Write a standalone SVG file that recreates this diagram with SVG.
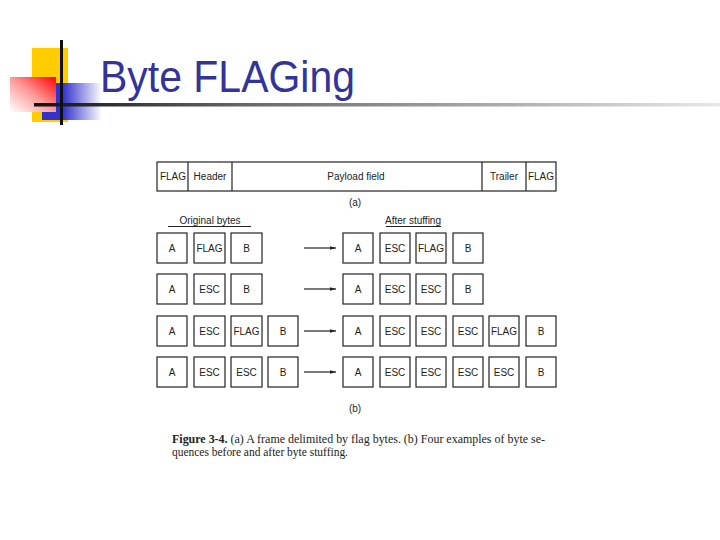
<svg xmlns="http://www.w3.org/2000/svg" width="720" height="540" viewBox="0 0 720 540">
<defs>
<linearGradient id="redG" x1="1" y1="0" x2="0" y2="1">
<stop offset="0" stop-color="#ff0000"/>
<stop offset="0.15" stop-color="#ff3030"/>
<stop offset="0.5" stop-color="#ff9a9a"/>
<stop offset="1" stop-color="#ffffff"/>
</linearGradient>
<linearGradient id="blueG" x1="0" y1="0" x2="1" y2="0">
<stop offset="0" stop-color="#3333cc"/>
<stop offset="0.35" stop-color="#3333cc"/>
<stop offset="1" stop-color="#ffffff"/>
</linearGradient>
<linearGradient id="lineG" x1="0" y1="0" x2="1" y2="0">
<stop offset="0" stop-color="#111111"/>
<stop offset="0.3" stop-color="#666666"/>
<stop offset="1" stop-color="#e8e8e8"/>
</linearGradient>
<marker id="arr" viewBox="0 0 10 10" refX="10" refY="5" markerWidth="6" markerHeight="6" markerUnits="userSpaceOnUse" orient="auto">
<path d="M0,2 L10,5 L0,8 z" fill="#222"/>
</marker>
</defs>
<style>
.box{fill:#fff;stroke:#222;stroke-width:1.2}
.t{font-family:"Liberation Sans",Arial,sans-serif;font-size:10px;fill:#222;text-anchor:middle}
.cap{font-family:"Liberation Serif","Times New Roman",serif;font-size:11.5px;fill:#222}
.conn{stroke:#222;stroke-width:1.2;fill:none}
</style>
<rect width="720" height="540" fill="#fff"/>

<g id="decoration">
<rect x="32" y="48" width="36" height="74" fill="#ffcc00"/>
<rect x="42" y="83" width="60" height="37" fill="url(#blueG)"/>
<rect x="10" y="77" width="46" height="35" fill="url(#redG)"/>
<rect x="34" y="103" width="686" height="3.5" fill="url(#lineG)"/>
<rect x="60" y="40" width="3" height="85" fill="#111"/>
</g>

<g id="title">
<text x="100" y="92" font-family="'Liberation Sans',Arial,sans-serif" font-size="44" fill="#333399" textLength="255" lengthAdjust="spacingAndGlyphs">Byte FLAGing</text>
</g>

<g id="frame-a">
<rect class="box" x="157" y="162" width="399" height="29"/>
<line class="conn" x1="188" y1="162" x2="188" y2="191"/>
<line class="conn" x1="232" y1="162" x2="232" y2="191"/>
<line class="conn" x1="482" y1="162" x2="482" y2="191"/>
<line class="conn" x1="526" y1="162" x2="526" y2="191"/>
<text class="t" x="173" y="180">FLAG</text>
<text class="t" x="210" y="180">Header</text>
<text class="t" x="356" y="180">Payload field</text>
<text class="t" x="504" y="180">Trailer</text>
<text class="t" x="541" y="180">FLAG</text>
<text class="t" x="355" y="206">(a)</text>
</g>

<g id="headings">
<text class="t" x="210" y="224">Original bytes</text>
<line class="conn" x1="168" y1="226.5" x2="251" y2="226.5" stroke-width="1"/>
<text class="t" x="413" y="224">After stuffing</text>
<line class="conn" x1="386" y1="226.5" x2="441" y2="226.5" stroke-width="1"/>
</g>

<g id="row1-orig">
<rect class="box" x="157" y="233" width="30" height="30"/><text class="t" x="172" y="252">A</text>
<rect class="box" x="194" y="233" width="31" height="30"/><text class="t" x="209.5" y="252">FLAG</text>
<rect class="box" x="231" y="233" width="31" height="30"/><text class="t" x="246.5" y="252">B</text>
</g>
<g id="row1-stuffed">
<rect class="box" x="343" y="233" width="30" height="30"/><text class="t" x="358" y="252">A</text>
<rect class="box" x="380" y="233" width="30" height="30"/><text class="t" x="395" y="252">ESC</text>
<rect class="box" x="416" y="233" width="30" height="30"/><text class="t" x="431" y="252">FLAG</text>
<rect class="box" x="453" y="233" width="30" height="30"/><text class="t" x="468" y="252">B</text>
</g>

<g id="row2-orig">
<rect class="box" x="157" y="274" width="30" height="30"/><text class="t" x="172" y="293">A</text>
<rect class="box" x="194" y="274" width="31" height="30"/><text class="t" x="209.5" y="293">ESC</text>
<rect class="box" x="231" y="274" width="31" height="30"/><text class="t" x="246.5" y="293">B</text>
</g>
<g id="row2-stuffed">
<rect class="box" x="343" y="274" width="30" height="30"/><text class="t" x="358" y="293">A</text>
<rect class="box" x="380" y="274" width="30" height="30"/><text class="t" x="395" y="293">ESC</text>
<rect class="box" x="416" y="274" width="30" height="30"/><text class="t" x="431" y="293">ESC</text>
<rect class="box" x="453" y="274" width="30" height="30"/><text class="t" x="468" y="293">B</text>
</g>

<g id="row3-orig">
<rect class="box" x="157" y="316" width="30" height="30"/><text class="t" x="172" y="335">A</text>
<rect class="box" x="194" y="316" width="31" height="30"/><text class="t" x="209.5" y="335">ESC</text>
<rect class="box" x="231" y="316" width="31" height="30"/><text class="t" x="246.5" y="335">FLAG</text>
<rect class="box" x="268" y="316" width="30" height="30"/><text class="t" x="283" y="335">B</text>
</g>
<g id="row3-stuffed">
<rect class="box" x="343" y="316" width="30" height="30"/><text class="t" x="358" y="335">A</text>
<rect class="box" x="380" y="316" width="30" height="30"/><text class="t" x="395" y="335">ESC</text>
<rect class="box" x="416" y="316" width="30" height="30"/><text class="t" x="431" y="335">ESC</text>
<rect class="box" x="453" y="316" width="30" height="30"/><text class="t" x="468" y="335">ESC</text>
<rect class="box" x="489" y="316" width="30" height="30"/><text class="t" x="504" y="335">FLAG</text>
<rect class="box" x="526" y="316" width="30" height="30"/><text class="t" x="541" y="335">B</text>
</g>

<g id="row4-orig">
<rect class="box" x="157" y="357" width="30" height="30"/><text class="t" x="172" y="376">A</text>
<rect class="box" x="194" y="357" width="31" height="30"/><text class="t" x="209.5" y="376">ESC</text>
<rect class="box" x="231" y="357" width="31" height="30"/><text class="t" x="246.5" y="376">ESC</text>
<rect class="box" x="268" y="357" width="30" height="30"/><text class="t" x="283" y="376">B</text>
</g>
<g id="row4-stuffed">
<rect class="box" x="343" y="357" width="30" height="30"/><text class="t" x="358" y="376">A</text>
<rect class="box" x="380" y="357" width="30" height="30"/><text class="t" x="395" y="376">ESC</text>
<rect class="box" x="416" y="357" width="30" height="30"/><text class="t" x="431" y="376">ESC</text>
<rect class="box" x="453" y="357" width="30" height="30"/><text class="t" x="468" y="376">ESC</text>
<rect class="box" x="489" y="357" width="30" height="30"/><text class="t" x="504" y="376">ESC</text>
<rect class="box" x="526" y="357" width="30" height="30"/><text class="t" x="541" y="376">B</text>
</g>

<g id="connectors">
<line class="conn" x1="304" y1="248" x2="336" y2="248" marker-end="url(#arr)"/>
<line class="conn" x1="304" y1="289" x2="336" y2="289" marker-end="url(#arr)"/>
<line class="conn" x1="304" y1="331" x2="336" y2="331" marker-end="url(#arr)"/>
<line class="conn" x1="304" y1="372" x2="336" y2="372" marker-end="url(#arr)"/>
</g>

<g id="caption">
<text class="t" x="355" y="412">(b)</text>
<text class="cap" x="172" y="443" textLength="373" lengthAdjust="spacingAndGlyphs"><tspan font-weight="bold">Figure 3-4.</tspan>  (a) A frame delimited by flag bytes.  (b) Four examples of byte se-</text>
<text class="cap" x="172" y="456" textLength="176" lengthAdjust="spacingAndGlyphs">quences before and after byte stuffing.</text>
</g>
</svg>
